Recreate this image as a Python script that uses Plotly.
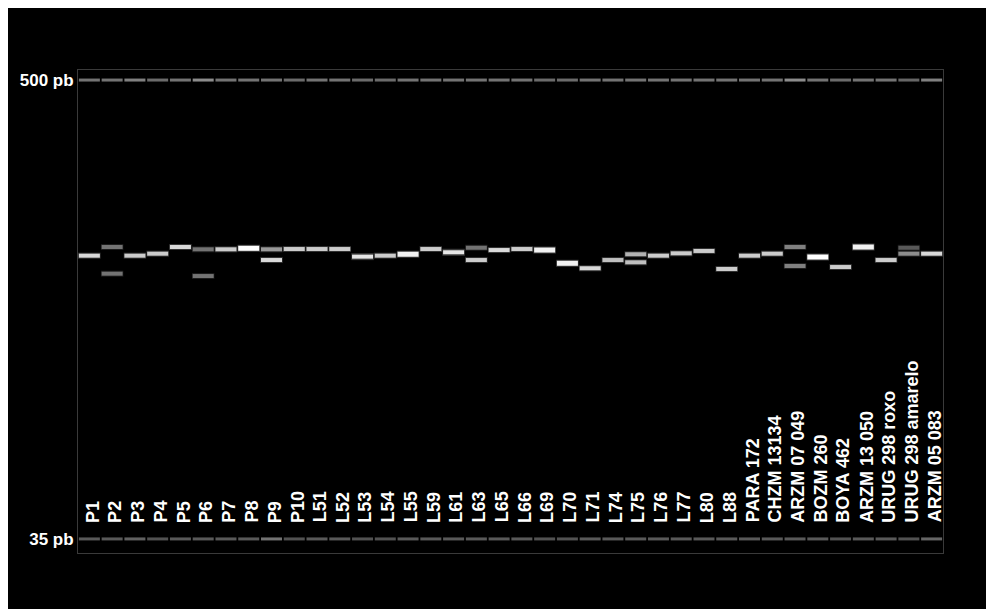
import math
import plotly.graph_objects as go

lanes = ["P1", "P2", "P3", "P4", "P5", "P6", "P7", "P8", "P9", "P10",
         "L51", "L52", "L53", "L54", "L55", "L59", "L61", "L63", "L65", "L66",
         "L69", "L70", "L71", "L74", "L75", "L76", "L77", "L80", "L88",
         "PARA 172", "CHZM 13134", "ARZM 07 049", "BOZM 260", "BOYA 462",
         "ARZM 13 050", "URUG 298 roxo", "URUG 298 amarelo", "ARZM 05 083"]

# main band size (bp) per lane
band1_bp = [180.7, 190.0, 180.7, 182.8, 190.0, 187.5, 187.5, 188.6, 187.5, 187.8,
            187.8, 187.8, 179.7, 180.7, 182.2, 187.8, 184.3, 189.2, 186.7, 187.8,
            186.7, 172.9, 168.0, 176.2, 182.2, 180.7, 183.2, 185.7, 167.3,
            180.7, 182.8, 190.0, 179.3, 169.2, 190.0, 176.2, 189.2, 182.8]
band1_int = [0.85, 0.45, 0.80, 0.80, 0.85, 0.45, 0.80, 1.00, 0.60, 0.80,
             0.80, 0.80, 0.90, 0.80, 0.95, 0.80, 0.90, 0.45, 0.85, 0.80,
             0.95, 0.95, 0.85, 0.75, 0.70, 0.80, 0.80, 0.80, 0.80,
             0.80, 0.80, 0.50, 1.00, 0.80, 0.95, 0.80, 0.35, 0.85]

# second band (lanes with two alleles)
band2_lanes = ["P2", "P6", "P9", "L63", "L75", "ARZM 07 049", "URUG 298 amarelo"]
band2_bp = [162.8, 160.6, 176.2, 176.2, 173.9, 170.2, 182.8]
band2_int = [0.45, 0.45, 0.85, 0.80, 0.75, 0.50, 0.55]

# size ladder
ladder_bp = [500, 35]
ladder_top_int = [0.45, 0.45, 0.50, 0.42, 0.45, 0.55, 0.45, 0.45, 0.45, 0.42,
                  0.45, 0.45, 0.42, 0.42, 0.45, 0.45, 0.45, 0.45, 0.45, 0.45,
                  0.42, 0.42, 0.45, 0.45, 0.45, 0.45, 0.45, 0.45, 0.45,
                  0.45, 0.45, 0.55, 0.45, 0.42, 0.45, 0.45, 0.40, 0.50]
ladder_bot_int = [0.35, 0.35, 0.38, 0.32, 0.35, 0.35, 0.35, 0.35, 0.45, 0.32,
                  0.35, 0.35, 0.32, 0.32, 0.35, 0.35, 0.35, 0.35, 0.35, 0.35,
                  0.32, 0.32, 0.35, 0.35, 0.35, 0.35, 0.35, 0.35, 0.35,
                  0.35, 0.35, 0.35, 0.35, 0.32, 0.35, 0.35, 0.32, 0.40]

label_base_bp = 38.0
y_lo, y_hi = 32.26, 530.0


def gray(i):
    v = int(round(255 * i))
    return f"rgb({v},{v},{v})"


fig = go.Figure()

all_x = lanes + band2_lanes
all_y = band1_bp + band2_bp
all_i = band1_int + band2_int

# soft glow under bands
fig.add_trace(go.Scatter(
    x=all_x, y=all_y, mode="markers", hoverinfo="skip", showlegend=False,
    opacity=0.4,
    marker=dict(symbol="line-ew-open", size=16,
                color=[gray(i * 0.6) for i in all_i],
                line=dict(color=[gray(i * 0.6) for i in all_i],
                          width=[7 if i >= 0.9 else 6 for i in all_i])),
))
# bands
fig.add_trace(go.Scatter(
    x=all_x, y=all_y, mode="markers", hoverinfo="skip", showlegend=False,
    marker=dict(symbol="line-ew-open", size=15,
                color=[gray(i) for i in all_i],
                line=dict(color=[gray(i) for i in all_i],
                          width=[5 if i >= 0.95 else 4 for i in all_i])),
))

# ladder
for bp, ints in zip(ladder_bp, [ladder_top_int, ladder_bot_int]):
    cols = [gray(i) for i in ints]
    fig.add_trace(go.Scatter(
        x=lanes, y=[bp] * len(lanes), mode="markers", hoverinfo="skip",
        showlegend=False,
        marker=dict(symbol="line-ew-open", size=15, color=cols,
                    line=dict(color=cols, width=3)),
    ))

for lane in lanes:
    fig.add_annotation(
        x=lane, y=math.log10(label_base_bp), xref="x", yref="y",
        text=lane, textangle=-90, showarrow=False,
        xanchor="center", yanchor="bottom", xshift=3,
        font=dict(family="Liberation Sans, Arial", size=18, color="white",
                  weight="bold"),
    )

fig.update_layout(
    width=994, height=609,
    margin=dict(l=63, r=59, t=62, b=64),
    paper_bgcolor="black", plot_bgcolor="black",
    xaxis=dict(type="category", range=[-0.5, len(lanes) - 0.5],
               showticklabels=False, showgrid=False, zeroline=False,
               showline=True, mirror=True, linecolor="#3a3a3a", linewidth=1),
    yaxis=dict(type="log", range=[math.log10(y_lo), math.log10(y_hi)],
               tickvals=ladder_bp, ticktext=["500 pb", "35 pb"], ticks="",
               tickfont=dict(family="Liberation Sans, Arial", size=17,
                             color="white", weight="bold"),
               showgrid=False, zeroline=False,
               showline=True, mirror=True, linecolor="#3a3a3a", linewidth=1),
)

fig.write_html("out.html")
